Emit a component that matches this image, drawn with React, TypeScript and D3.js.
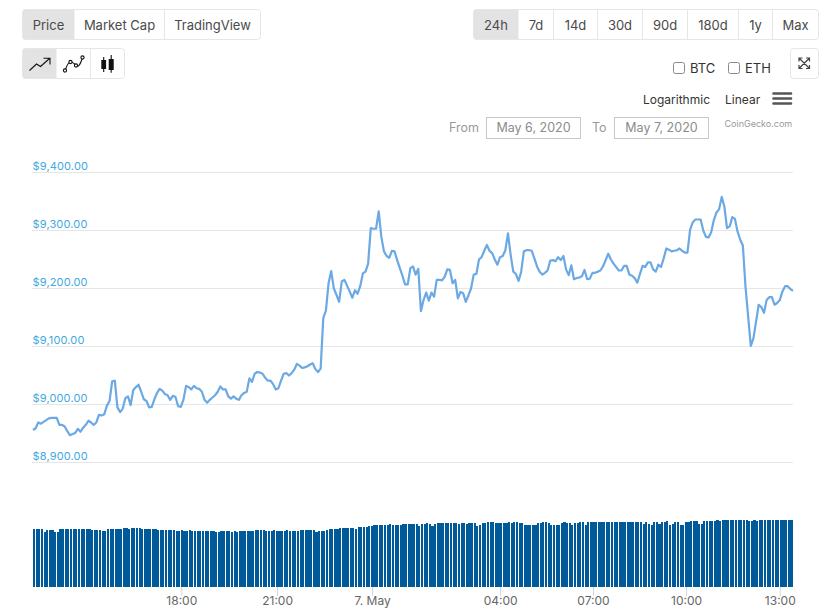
// App.tsx
import { useEffect, useRef } from "react";
import * as d3 from "d3";

const chartFont = "Inter, 'Noto Sans', sans-serif";

const priceTicks = [8900, 9000, 9100, 9200, 9300, 9400];
const timeLabels = ["18:00", "21:00", "7. May", "04:00", "07:00", "10:00", "13:00"];
// the time axis is ordinal, so ticks sit at sample positions
const timeTickSamples = [56.2, 92.5, 128.5, 177, 212.2, 247.5, 283];

const priceTabs = ["Price", "Market Cap", "TradingView"];
const rangeTabs = ["24h", "7d", "14d", "30d", "90d", "180d", "1y", "Max"];

// USD, one reading per sample
const priceValues = [
  8956, 8959, 8969, 8967, 8970, 8973, 8976, 8977, 8977, 8977, 8965, 8965, 8962, 8954, 8947, 8949,
  8951, 8958, 8953, 8960, 8965, 8972, 8969, 8965, 8969, 8982, 8981, 8983, 8998, 9006, 9040, 9041,
  8995, 8987, 8993, 9011, 9014, 8999, 9025, 9030, 9034, 9022, 9009, 9006, 8995, 8996, 9009, 9020,
  9027, 9024, 9018, 9016, 9008, 9015, 9013, 8997, 8996, 9008, 9032, 9030, 9026, 9032, 9028, 9027,
  9022, 9008, 9003, 9008, 9012, 9016, 9022, 9031, 9026, 9026, 9014, 9010, 9014, 9010, 9008, 9016,
  9020, 9022, 9045, 9039, 9053, 9056, 9055, 9053, 9046, 9041, 9041, 9035, 9026, 9028, 9041, 9053,
  9054, 9050, 9054, 9060, 9070, 9067, 9063, 9064, 9066, 9069, 9071, 9061, 9056, 9062, 9149, 9162,
  9209, 9230, 9200, 9189, 9177, 9212, 9215, 9205, 9195, 9184, 9197, 9191, 9204, 9226, 9229, 9243,
  9304, 9303, 9303, 9333, 9289, 9264, 9256, 9253, 9265, 9264, 9249, 9235, 9222, 9207, 9207, 9235,
  9238, 9224, 9234, 9161, 9180, 9193, 9179, 9193, 9186, 9215, 9215, 9214, 9220, 9233, 9232, 9209,
  9215, 9183, 9194, 9192, 9177, 9188, 9200, 9224, 9225, 9250, 9254, 9265, 9275, 9265, 9261, 9250,
  9241, 9254, 9256, 9266, 9295, 9258, 9229, 9225, 9213, 9229, 9264, 9266, 9266, 9265, 9252, 9238,
  9229, 9224, 9227, 9231, 9248, 9249, 9247, 9254, 9249, 9256, 9233, 9223, 9240, 9216, 9218, 9219,
  9221, 9232, 9216, 9217, 9227, 9227, 9229, 9231, 9238, 9249, 9260, 9250, 9243, 9237, 9231, 9231,
  9239, 9239, 9224, 9222, 9218, 9210, 9225, 9239, 9237, 9245, 9245, 9233, 9229, 9241, 9237, 9252,
  9269, 9267, 9264, 9265, 9266, 9269, 9265, 9262, 9262, 9301, 9314, 9319, 9319, 9319, 9300, 9289,
  9288, 9297, 9318, 9331, 9337, 9358, 9341, 9304, 9307, 9323, 9320, 9298, 9284, 9274, 9203, 9152,
  9101, 9114, 9143, 9172, 9168, 9158, 9180, 9185, 9185, 9172, 9175, 9180, 9195, 9204, 9204, 9199,
  9196,
];

// USD billions, one per sample
const volumeValues = [
  58, 58, 58, 58, 55, 57, 57, 57, 55, 55, 58, 58, 58, 58, 58, 58, 58, 58, 58, 58, 58, 58, 57, 57,
  57, 57, 56, 56, 58, 58, 58, 58, 58, 58, 59, 59, 58, 59, 59, 59, 59, 58, 58, 58, 58, 58, 58, 57,
  57, 57, 57, 57, 57, 57, 56, 56, 57, 56, 56, 57, 56, 56, 56, 56, 56, 56, 56, 56, 56, 55, 55, 56,
  56, 56, 56, 55, 56, 55, 56, 56, 56, 56, 56, 56, 57, 57, 57, 57, 56, 56, 56, 57, 56, 56, 56, 56,
  57, 56, 56, 56, 56, 57, 57, 57, 57, 57, 57, 55, 56, 56, 56, 57, 58, 58, 58, 58, 59, 59, 59, 59,
  59, 59, 58, 60, 60, 60, 60, 61, 61, 62, 62, 62, 62, 62, 62, 63, 62, 62, 62, 62, 63, 63, 63, 63,
  63, 63, 61, 63, 63, 64, 63, 61, 63, 64, 64, 64, 64, 64, 64, 64, 64, 63, 64, 64, 63, 64, 64, 64,
  61, 62, 64, 64, 65, 65, 65, 64, 64, 64, 64, 64, 65, 64, 65, 65, 64, 64, 62, 62, 62, 62, 62, 64,
  64, 65, 65, 64, 62, 62, 62, 62, 64, 65, 64, 64, 62, 64, 64, 65, 65, 62, 65, 65, 65, 65, 65, 65,
  65, 65, 65, 65, 65, 65, 65, 65, 65, 65, 65, 65, 65, 65, 65, 63, 65, 63, 62, 65, 65, 63, 65, 65,
  66, 62, 63, 65, 65, 62, 62, 65, 65, 66, 66, 66, 63, 63, 66, 66, 66, 66, 66, 67, 66, 67, 67, 67,
  67, 67, 67, 67, 67, 67, 67, 66, 66, 67, 66, 67, 67, 67, 67, 67, 67, 67, 67, 67, 67, 67, 67, 67,
];

const xScale = d3.scaleLinear().domain([0, 288]).range([33, 793]);
const yScale = d3.scaleLinear().domain([8900, 9400]).range([462.5, 172.5]);
const volumeScale = d3.scaleLinear().domain([0, 67]).range([587, 520]);
const barWidth = 2.15;

function TabGroup({ labels, edges, y, h }: { labels: string[]; edges: number[]; y: number; h: number }) {
  return (
    <g>
      <path
        d={`M${edges[0] + 3},${y}H${edges[1]}V${y + h}H${edges[0] + 3}Q${edges[0]},${y + h} ${edges[0]},${y + h - 3}V${y + 3}Q${edges[0]},${y} ${edges[0] + 3},${y}Z`}
        fill="#e3e3e3"
      />
      <rect x={edges[0]} y={y} width={edges[edges.length - 1] - edges[0]} height={h} rx={3} fill="none" stroke="#e6e6e6" />
      {edges.slice(2, -1).map((e) => (
        <line key={e} x1={e} x2={e} y1={y} y2={y + h} stroke="#e6e6e6" />
      ))}
      {labels.map((l, i) => (
        <text key={l + i} x={(edges[i] + edges[i + 1]) / 2} y={y + 20} textAnchor="middle" fontSize={13} fill="#4a4a4a">
          {l}
        </text>
      ))}
    </g>
  );
}

function App() {
  const chartRef = useRef<SVGGElement | null>(null);

  useEffect(() => {
    const g = d3.select(chartRef.current);
    g.selectAll("*").remove();

    // price grid and labels
    g.append("g")
      .selectAll("line")
      .data(priceTicks)
      .join("line")
      .attr("x1", 32)
      .attr("x2", 793)
      .attr("y1", (d) => yScale(d))
      .attr("y2", (d) => yScale(d))
      .attr("stroke", "#e6e6e6");

    g.append("g")
      .selectAll("text")
      .data(priceTicks)
      .join("text")
      .attr("x", 32.5)
      .attr("y", (d) => yScale(d) - 3)
      .attr("font-size", 11)
      .attr("letter-spacing", 0.15)
      .attr("fill", "#3fa9e0")
      .text((d) => d3.format("$,.2f")(d));

    // volume columns, edges snapped to whole pixels
    g.append("g")
      .selectAll("rect")
      .data(volumeValues)
      .join("rect")
      .attr("x", (d, i) => Math.round(xScale(i)))
      .attr("width", (d, i) => Math.round(xScale(i) + barWidth) - Math.round(xScale(i)))
      .attr("y", (d) => volumeScale(d))
      .attr("height", (d) => volumeScale(0) - volumeScale(d))
      .attr("fill", "#005a9a")
      .attr("shape-rendering", "crispEdges");

    const line = d3
      .line<number>()
      .x((d, i) => xScale(i))
      .y((d) => yScale(d));

    g.append("path")
      .attr("d", line(priceValues) as string)
      .attr("fill", "none")
      .attr("stroke", "#6aa9e4")
      .attr("stroke-width", 2.2)
      .attr("stroke-linejoin", "round");

    const xAxis = d3
      .axisBottom(xScale)
      .tickValues(timeTickSamples)
      .tickSize(9)
      .tickPadding(0.5)
      .tickFormat((d, i) => timeLabels[i]);

    const axis = g.append("g").attr("transform", "translate(0, 587)").call(xAxis);
    axis.select(".domain").remove();
    axis.selectAll(".tick line").attr("stroke", "#ccd6eb");
    axis
      .selectAll(".tick text")
      .attr("fill", "#666666")
      .attr("font-size", 12)
      .attr("font-family", chartFont);
  }, []);

  return (
    <svg
      width={833}
      height={616}
      style={{ position: "absolute", left: 0, top: 0 }}
      fontFamily={chartFont}
    >
      <TabGroup labels={priceTabs} edges={[22.5, 74.5, 164.5, 260.5]} y={9.5} h={30} />
      <TabGroup
        labels={rangeTabs}
        edges={[473.5, 518.5, 553.5, 597.5, 642.5, 687.5, 738.5, 772.5, 818.5]}
        y={9.5}
        h={30}
      />

      {/* chart type buttons */}
      <TabGroup labels={["", "", ""]} edges={[22.5, 56.5, 90.5, 124.5]} y={48.5} h={30} />
      <g fill="none" stroke="#111" strokeWidth={1.1}>
        <path d="M29.5,70.5L36.5,64L40.5,66.5L49.5,58.5M43.5,58.3H50V64.5" />
        <path d="M65,70.5Q68,62 70.5,62T76,65.5T82.5,57.5" />
        <circle cx={65} cy={70.5} r={1.6} fill="#fff" />
        <circle cx={70.5} cy={62} r={1.6} fill="#fff" />
        <circle cx={76} cy={65.5} r={1.6} fill="#fff" />
        <circle cx={82.5} cy={57.5} r={1.6} fill="#fff" />
        <path d="M103.7,57V72M111.2,55V72.7" />
      </g>
      <rect x={101.3} y={60} width={4.8} height={9} fill="#111" />
      <rect x={108.7} y={59} width={5} height={11} fill="#111" />

      {/* expand button */}
      <rect x={790.5} y={48.5} width={28} height={30} rx={3} fill="none" stroke="#e6e6e6" />
      <path
        d="M799,58L809.5,68.5M809.5,58L799,68.5M799,61.5V58H802.5M806,58H809.5V61.5M799,65V68.5H802.5M806,68.5H809.5V65"
        fill="none"
        stroke="#444"
        strokeWidth={1.2}
      />

      {/* compare boxes */}
      <rect x={673.5} y={62.5} width={11} height={11} rx={2} fill="#fff" stroke="#8a8a8a" />
      <text x={690} y={72.5} fontSize={13} fill="#333">BTC</text>
      <rect x={728.5} y={62.5} width={11} height={11} rx={2} fill="#fff" stroke="#8a8a8a" />
      <text x={745} y={72.5} fontSize={13} fill="#333">ETH</text>

      {/* scale switch */}
      <text x={643} y={104} fontSize={12} fill="#333">Logarithmic</text>
      <text x={725} y={104} fontSize={12} fill="#333">Linear</text>
      <path d="M773.5,93.5H791M773.5,98.5H791M773.5,103.5H791" stroke="#555" strokeWidth={2.6} strokeLinecap="round" />

      {/* date range */}
      <text x={449} y={131.5} fontSize={12.5} fill="#999">From</text>
      <rect x={486.5} y={117.5} width={94} height={21} fill="#fff" stroke="#c8c8c8" />
      <text x={533.5} y={131.5} fontSize={12.5} textAnchor="middle" fill="#8c8c8c">May 6, 2020</text>
      <text x={592} y={131.5} fontSize={12.5} fill="#999">To</text>
      <rect x={614.5} y={117.5} width={94} height={21} fill="#fff" stroke="#c8c8c8" />
      <text x={661.5} y={131.5} fontSize={12.5} textAnchor="middle" fill="#8c8c8c">May 7, 2020</text>
      <text x={724.5} y={127} fontSize={9} fill="#999">CoinGecko.com</text>

      <g ref={chartRef} />
    </svg>
  );
}

export default App;
